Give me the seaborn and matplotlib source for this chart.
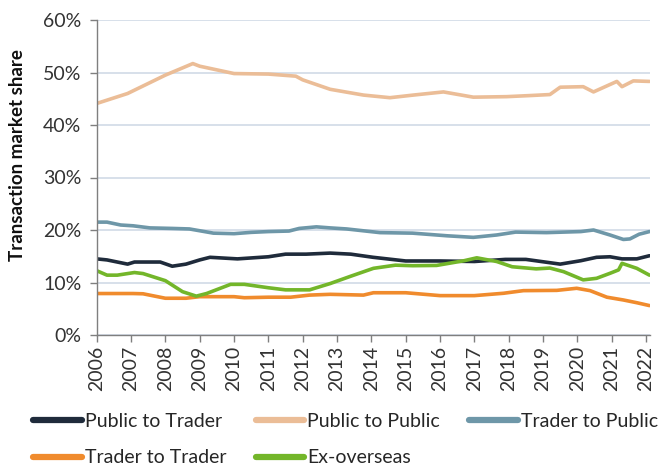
import matplotlib
matplotlib.use("Agg")
import matplotlib.pyplot as plt
import seaborn as sns
import pandas as pd
from matplotlib.lines import Line2D

# ---- data (percent share) ----
series_names = ["Public to Trader", "Public to Public", "Trader to Public",
                "Trader to Trader", "Ex-overseas"]
colors = ["#1f2b3b", "#ebbd97", "#6e97a8", "#f08b2d", "#73b62a"]

ptt_years = [2006.0, 2006.3, 2006.9, 2007.1, 2007.85, 2008.2, 2008.6, 2009.0, 2009.3, 2010.1,
             2011.0, 2011.5, 2012.1, 2012.8, 2013.4, 2014.05, 2015.0, 2016.0, 2017.0, 2017.9,
             2018.5, 2019.5, 2020.1, 2020.56, 2020.95, 2021.3, 2021.73, 2022.1]
ptt = [14.5, 14.3, 13.5, 13.9, 13.9, 13.1, 13.5, 14.3, 14.8, 14.5,
       14.9, 15.4, 15.4, 15.6, 15.4, 14.8, 14.1, 14.1, 14.0, 14.4,
       14.4, 13.5, 14.15, 14.8, 14.9, 14.5, 14.5, 15.1]

ptp_years = [2006.0, 2006.9, 2008.0, 2008.8, 2009.0, 2010.0, 2011.0, 2011.8, 2012.0, 2012.8,
             2013.77, 2014.54, 2015.22, 2016.1, 2016.97, 2017.94, 2018.6, 2019.2, 2019.5,
             2020.17, 2020.47, 2021.15, 2021.3, 2021.63, 2022.1]
ptp = [44.1, 46.0, 49.5, 51.7, 51.2, 49.8, 49.7, 49.3, 48.6, 46.8,
       45.7, 45.2, 45.7, 46.3, 45.3, 45.4, 45.6, 45.8, 47.2,
       47.3, 46.3, 48.3, 47.3, 48.4, 48.3]

ttp_years = [2006.0, 2006.3, 2006.7, 2007.06, 2007.55, 2008.2, 2008.7, 2009.4, 2010.0, 2010.5,
             2011.0, 2011.6, 2011.9, 2012.4, 2012.8, 2013.28, 2014.25, 2015.2, 2016.2, 2016.97,
             2017.65, 2018.2, 2019.1, 2020.1, 2020.47, 2020.95, 2021.34, 2021.53, 2021.8, 2022.1]
ttp = [21.5, 21.5, 20.95, 20.8, 20.4, 20.3, 20.2, 19.4, 19.3, 19.55,
       19.7, 19.8, 20.3, 20.6, 20.4, 20.2, 19.5, 19.4, 18.9, 18.6,
       19.05, 19.6, 19.5, 19.7, 20.0, 19.05, 18.2, 18.3, 19.2, 19.7]

ttt_years = [2006.0, 2007.06, 2007.35, 2008.0, 2008.6, 2009.0, 2010.0, 2010.3, 2011.0, 2011.65,
             2012.2, 2012.8, 2013.77, 2014.06, 2015.0, 2016.0, 2017.0, 2017.85, 2018.43, 2019.4,
             2019.98, 2020.37, 2020.86, 2021.34, 2021.73, 2022.1]
ttt = [7.9, 7.9, 7.85, 7.0, 7.0, 7.3, 7.3, 7.1, 7.2, 7.2,
       7.6, 7.75, 7.6, 8.05, 8.05, 7.5, 7.5, 7.95, 8.45, 8.5,
       8.9, 8.45, 7.2, 6.67, 6.15, 5.6]

exo_years = [2006.0, 2006.3, 2006.6, 2007.1, 2007.35, 2008.0, 2008.5, 2008.9, 2009.2, 2009.9,
             2010.3, 2011.0, 2011.5, 2012.2, 2012.8, 2013.4, 2014.06, 2014.7, 2015.2, 2015.9,
             2016.7, 2017.07, 2017.65, 2018.1, 2018.8, 2019.2, 2019.6, 2020.17, 2020.56, 2020.95,
             2021.2, 2021.3, 2021.73, 2022.1]
exo = [12.25, 11.4, 11.4, 11.9, 11.7, 10.35, 8.25, 7.4, 7.9, 9.65,
       9.65, 9.0, 8.6, 8.6, 9.8, 11.2, 12.7, 13.3, 13.2, 13.25,
       14.15, 14.7, 14.0, 13.0, 12.6, 12.75, 12.06, 10.5, 10.8, 11.75,
       12.4, 13.65, 12.7, 11.4]

year_ticks = list(range(2006, 2023))
y_ticks = [0, 10, 20, 30, 40, 50, 60]

# ---- long table ----
frames = []
for name, xs, ys in zip(series_names,
                        [ptt_years, ptp_years, ttp_years, ttt_years, exo_years],
                        [ptt, ptp, ttp, ttt, exo]):
    frames.append(pd.DataFrame({"year": xs, "share": ys, "series": name}))
df = pd.concat(frames, ignore_index=True)

sns.set_theme(style="white")
plt.rcParams["font.family"] = ["Lato", "DejaVu Sans"]

fig = plt.figure(figsize=(6.58, 4.68), dpi=100)
ax = fig.add_axes([96.7 / 658, 1 - 335 / 468, (650.5 - 96.7) / 658, (335 - 20) / 468])

sns.lineplot(data=df, x="year", y="share", hue="series", hue_order=series_names,
             palette=colors, estimator=None, sort=True, linewidth=2.6, ax=ax, legend=False)

ax.set_xlim(2006, 2022.13)
ax.set_ylim(0, 60)
ax.set_yticks(y_ticks)
ax.set_yticklabels([f"{v}%" for v in y_ticks], fontsize=14, color="#333333")
ax.set_xticks(year_ticks)
ax.set_xticklabels([str(y) for y in year_ticks], rotation=90, fontsize=14, color="#333333")
ax.grid(axis="y", color="#d7e0ea", linewidth=1.4)
ax.set_axisbelow(True)
for s in ["top", "right"]:
    ax.spines[s].set_visible(False)
for s in ["left", "bottom"]:
    ax.spines[s].set_color("#7f7f7f")
    ax.spines[s].set_linewidth(1.0)
ax.tick_params(axis="y", direction="out", length=5, width=1.0, color="#7f7f7f", pad=6, left=True)
ax.tick_params(axis="x", direction="out", length=5, width=1.0, color="#7f7f7f", pad=3, bottom=True)
ax.set_xlabel("")
ax.set_ylabel("")
fig.text(18 / 658, 1 - 155 / 468, "Transaction market share", rotation=90, ha="center",
         va="center", fontsize=13.5, fontweight="bold", color="#111111")

# legend laid out row by row (matplotlib fills columns first)
order = [0, 3, 1, 4, 2]
handles = [Line2D([0], [0], color=colors[i], linewidth=4.5, solid_capstyle="round") for i in order]
labels = [series_names[i] for i in order]
fig.legend(handles, labels, ncol=3, mode="expand",
           bbox_to_anchor=(33 / 658, 1 - 413 / 468, 625 / 658, 0.001), loc="upper left",
           frameon=False, fontsize=14, handlelength=2.5, handletextpad=0.15,
           labelspacing=1.02, borderaxespad=0, borderpad=0)

fig.savefig("out.png", dpi=100)
